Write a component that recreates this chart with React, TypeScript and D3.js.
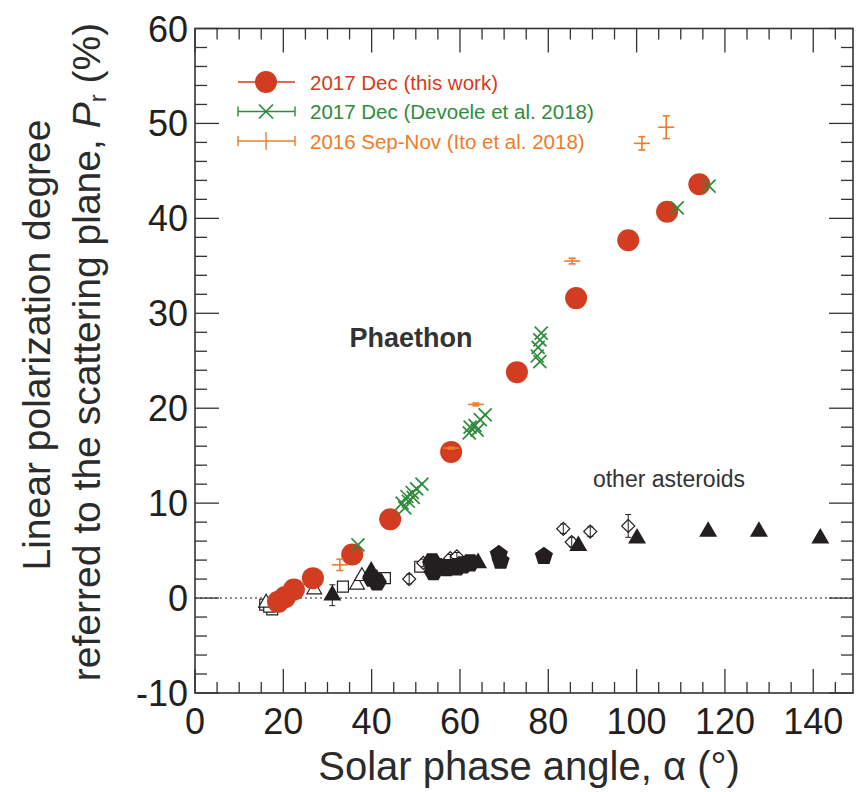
import React from 'react';
import * as d3 from 'd3';

// ---- data ----
const xTicksMajor = [0, 20, 40, 60, 80, 100, 120, 140];
const yTicksMajor = [-10, 0, 10, 20, 30, 40, 50, 60];

// Phaethon, this work: [alpha, Pr]
const thisWork = [
  [18.8, -0.4], [20.4, 0.1], [22.4, 0.9], [26.7, 2.1], [35.6, 4.6], [44.2, 8.3],
  [58.0, 15.4], [72.9, 23.8], [86.3, 31.6], [98.1, 37.7], [106.9, 40.7], [114.2, 43.6],
];
// Devogele et al. 2018
const devogele = [
  [36.9, 5.6], [46.9, 10.0], [47.5, 9.5], [48.0, 10.7], [48.3, 10.2], [49.2, 11.1], [49.4, 10.6],
  [50.2, 11.5], [51.4, 12.0], [62.1, 17.4], [62.3, 18.0], [63.4, 18.2], [63.9, 17.7], [64.6, 18.8],
  [65.7, 19.3], [77.5, 25.5], [77.7, 26.4], [78.1, 24.9], [78.1, 27.2], [78.4, 27.9],
  [109.2, 41.1], [116.4, 43.4],
];
// Ito et al. 2018: [alpha, Pr, errPr]
const ito = [
  [32.8, 3.5, 0.6], [58.0, 15.8, 0.1], [63.6, 20.4, 0.15], [85.4, 35.5, 0.3],
  [101.2, 47.9, 0.7], [106.7, 49.6, 1.2],
];
// other asteroids
const filledTriangles = [
  [31.1, 0.3, 1.1], [39.9, 2.8, 0.5], [64.1, 3.7, 0], [86.8, 5.5, 0], [100.1, 6.3, 0],
  [116.2, 7.0, 0], [127.7, 7.0, 0], [141.6, 6.3, 0.3],
];
const openSquares = [[15.9, -0.7], [17.5, -1.2], [16.8, -0.9], [33.5, 1.2], [43.0, 2.1], [51.0, 3.3]];
const openTriangles = [[16.1, -0.5], [27.0, 0.9], [36.7, 1.4], [37.8, 2.3]];
const openDiamonds = [
  [48.5, 2.0, 0.5], [51.7, 3.7, 0.4], [57.8, 4.2, 0.4], [59.3, 4.4, 0.4], [83.4, 7.3, 0.5],
  [85.3, 5.9, 0.5], [89.5, 7.0, 0.5], [98.1, 7.6, 1.2],
];
const filledBlobs = [
  [40.1, 2.1], [41.2, 1.7], [53.7, 3.8], [54.0, 2.8], [54.8, 3.3], [57.0, 3.2], [59.3, 3.3],
  [60.7, 3.5], [62.3, 3.7],
];
const filledPentagons = [[68.8, 4.6], [69.2, 3.9], [79.0, 4.4]];

const legendItems = [
  { label: '2017 Dec (this work)', kind: 'red' },
  { label: '2017 Dec (Devoele et al. 2018)', kind: 'green' },
  { label: '2016 Sep-Nov (Ito et al. 2018)', kind: 'orange' },
];

const RED = '#d23c20';
const GREEN = '#2f8b3b';
const ORANGE = '#f07b28';
const INK = '#231f20';

const W = 857;
const H = 792;

const x = d3.scaleLinear().domain([0, 149]).range([195, 853]);
const y = d3.scaleLinear().domain([-10, 60]).range([693, 28.5]);

const pentagon = {
  draw(ctx: any, size: number) {
    const r = Math.sqrt(size / 2.4);
    for (let i = 0; i < 5; i++) {
      const a = -Math.PI / 2 + (i * 2 * Math.PI) / 5;
      const px = r * Math.cos(a);
      const py = r * Math.sin(a);
      if (i === 0) ctx.moveTo(px, py); else ctx.lineTo(px, py);
    }
    ctx.closePath();
  },
};
const hexagon = {
  draw(ctx: any, size: number) {
    const r = Math.sqrt(size / 2.6);
    for (let i = 0; i < 6; i++) {
      const a = (i * 2 * Math.PI) / 6;
      const px = r * Math.cos(a);
      const py = r * Math.sin(a);
      if (i === 0) ctx.moveTo(px, py); else ctx.lineTo(px, py);
    }
    ctx.closePath();
  },
};

const triPath = d3.symbol(d3.symbolTriangle, 140)()!;
const openTriPath = d3.symbol(d3.symbolTriangle, 95)()!;
const squarePath = d3.symbol(d3.symbolSquare, 120)()!;
const diamondPath = d3.symbol(d3.symbolSquare, 85)()!;
const pentPath = d3.symbol(pentagon as any, 220)()!;
const hexPath = d3.symbol(hexagon as any, 260)()!;

function XMark({ cx, cy, s, color }: { cx: number; cy: number; s: number; color: string }) {
  return (
    <g stroke={color} strokeWidth={1.7}>
      <line x1={cx - s} y1={cy - s} x2={cx + s} y2={cy + s} />
      <line x1={cx - s} y1={cy + s} x2={cx + s} y2={cy - s} />
    </g>
  );
}

export default function App() {
  const xMinor = d3.range(0, 150, 5).filter((v) => v % 20 !== 0);
  const yMinor = d3.range(-10, 61, 2).filter((v) => v % 10 !== 0);
  const left = x(0), right = x(149), top = y(60), bottom = y(-10);
  const MAJ = 24, MIN = 11;

  return (
    <svg width={W} height={H} style={{ display: 'block', position: 'absolute', left: 0, top: 0 }}
      fontFamily="'Liberation Sans', Arial, Helvetica, sans-serif">
      <rect x={0} y={0} width={W} height={H} fill="#fff" />

      {/* zero line */}
      <line x1={left} x2={right} y1={y(0)} y2={y(0)} stroke="#666" strokeWidth={1.6} strokeDasharray="2,3" />

      {/* ticks */}
      <g stroke="#333" strokeWidth={1.3}>
        {xTicksMajor.map((v) => (
          <g key={'xM' + v}>
            <line x1={x(v)} x2={x(v)} y1={bottom} y2={bottom - MAJ} />
            <line x1={x(v)} x2={x(v)} y1={top} y2={top + MAJ} />
          </g>
        ))}
        {xMinor.map((v) => (
          <g key={'xm' + v}>
            <line x1={x(v)} x2={x(v)} y1={bottom} y2={bottom - MIN} />
            <line x1={x(v)} x2={x(v)} y1={top} y2={top + MIN} />
          </g>
        ))}
        {yTicksMajor.map((v) => (
          <g key={'yM' + v}>
            <line x1={left} x2={left + MAJ} y1={y(v)} y2={y(v)} />
            <line x1={right} x2={right - MAJ} y1={y(v)} y2={y(v)} />
          </g>
        ))}
        {yMinor.map((v) => (
          <g key={'ym' + v}>
            <line x1={left} x2={left + MIN + 1} y1={y(v)} y2={y(v)} />
            <line x1={right} x2={right - MIN - 1} y1={y(v)} y2={y(v)} />
          </g>
        ))}
      </g>
      <rect x={left} y={top} width={right - left} height={bottom - top} fill="none" stroke="#333" strokeWidth={1.6} />

      {/* tick labels */}
      <g fill={INK} fontSize={36}>
        {xTicksMajor.map((v) => (
          <text key={'xl' + v} x={x(v)} y={734} textAnchor="middle">{v}</text>
        ))}
        {yTicksMajor.map((v) => (
          <text key={'yl' + v} x={188} y={y(v) + 13} textAnchor="end">{v}</text>
        ))}
      </g>

      {/* axis titles */}
      <text x={529} y={780} textAnchor="middle" fontSize={40} fill="#2b2b2b">Solar phase angle, α (°)</text>
      <g fill="#2b2b2b" fontSize={39}>
        <text transform="translate(50,345) rotate(-90)" textAnchor="middle">Linear polarization degree</text>
        <text transform="translate(100,352) rotate(-90)" textAnchor="middle">
          referred to the scattering plane, <tspan fontStyle="italic">P</tspan>
          <tspan fontSize={24} dy={6}>r</tspan>
          <tspan dy={-6}> (%)</tspan>
        </text>
      </g>

      {/* other asteroids */}
      <g>
        {openSquares.map(([a, p], i) => (
          <path key={'os' + i} d={squarePath} transform={`translate(${x(a)},${y(p)})`} fill="#fff" stroke={INK} strokeWidth={1.2} />
        ))}
        {openTriangles.map(([a, p], i) => (
          <path key={'ot' + i} d={openTriPath} transform={`translate(${x(a)},${y(p)})`} fill="#fff" stroke={INK} strokeWidth={1.2} />
        ))}
        {openDiamonds.map(([a, p, e], i) => (
          <g key={'od' + i}>
            <path d={diamondPath} transform={`translate(${x(a)},${y(p)}) rotate(45)`} fill="#fff" stroke={INK} strokeWidth={1.2} />
            <line x1={x(a)} x2={x(a)} y1={y(p - e)} y2={y(p + e)} stroke={INK} strokeWidth={1} />
            <line x1={x(a) - 3} x2={x(a) + 3} y1={y(p - e)} y2={y(p - e)} stroke={INK} strokeWidth={1} />
            <line x1={x(a) - 3} x2={x(a) + 3} y1={y(p + e)} y2={y(p + e)} stroke={INK} strokeWidth={1} />
          </g>
        ))}
        {filledBlobs.map(([a, p], i) => (
          <path key={'fb' + i} d={hexPath} transform={`translate(${x(a)},${y(p)})`} fill={INK} />
        ))}
        {filledPentagons.map(([a, p], i) => (
          <path key={'fp' + i} d={pentPath} transform={`translate(${x(a)},${y(p)})`} fill={INK} />
        ))}
        {filledTriangles.map(([a, p, e], i) => (
          <g key={'ft' + i}>
            {e > 0 && (
              <g stroke={INK} strokeWidth={1}>
                <line x1={x(a)} x2={x(a)} y1={y(p - e)} y2={y(p + e)} />
                <line x1={x(a) - 3} x2={x(a) + 3} y1={y(p - e)} y2={y(p - e)} />
                <line x1={x(a) - 3} x2={x(a) + 3} y1={y(p + e)} y2={y(p + e)} />
              </g>
            )}
            <path d={triPath} transform={`translate(${x(a)},${y(p)})`} fill={INK} />
          </g>
        ))}
      </g>

      {/* Phaethon this work */}
      {thisWork.map(([a, p], i) => (
        <circle key={'tw' + i} cx={x(a)} cy={y(p)} r={11} fill={RED} />
      ))}
      {/* Devogele */}
      {devogele.map(([a, p], i) => (
        <XMark key={'dv' + i} cx={x(a)} cy={y(p)} s={6.5} color={GREEN} />
      ))}
      {/* Ito */}
      {ito.map(([a, p, e], i) => (
        <g key={'it' + i} stroke={ORANGE} strokeWidth={1.6}>
          <line x1={x(a) - 8} x2={x(a) + 8} y1={y(p)} y2={y(p)} />
          <line x1={x(a)} x2={x(a)} y1={y(p - e)} y2={y(p + e)} />
          <line x1={x(a) - 3.5} x2={x(a) + 3.5} y1={y(p - e)} y2={y(p - e)} />
          <line x1={x(a) - 3.5} x2={x(a) + 3.5} y1={y(p + e)} y2={y(p + e)} />
        </g>
      ))}

      {/* annotations */}
      <text x={411} y={347} textAnchor="middle" fontSize={27} fontWeight="bold" fill="#333">Phaethon</text>
      <text x={669} y={487} textAnchor="middle" fontSize={23} fill="#333">other asteroids</text>

      {/* legend */}
      {legendItems.map((it, i) => {
        const ly = 82 + i * 29.5;
        const color = it.kind === 'red' ? RED : it.kind === 'green' ? GREEN : ORANGE;
        return (
          <g key={'lg' + i}>
            <line x1={238} x2={295} y1={ly} y2={ly} stroke={color} strokeWidth={1.4} />
            {it.kind !== 'red' && (
              <g stroke={color} strokeWidth={1.4}>
                <line x1={238} x2={238} y1={ly - 5} y2={ly + 5} />
                <line x1={295} x2={295} y1={ly - 5} y2={ly + 5} />
              </g>
            )}
            {it.kind === 'red' && <circle cx={266} cy={ly} r={11} fill={RED} />}
            {it.kind === 'green' && <XMark cx={266} cy={ly} s={7} color={GREEN} />}
            {it.kind === 'orange' && <line x1={266} x2={266} y1={ly - 9} y2={ly + 9} stroke={ORANGE} strokeWidth={1.4} />}
            <text x={310} y={ly + 7.5} fontSize={20.5} fill={color}>{it.label}</text>
          </g>
        );
      })}
    </svg>
  );
}
